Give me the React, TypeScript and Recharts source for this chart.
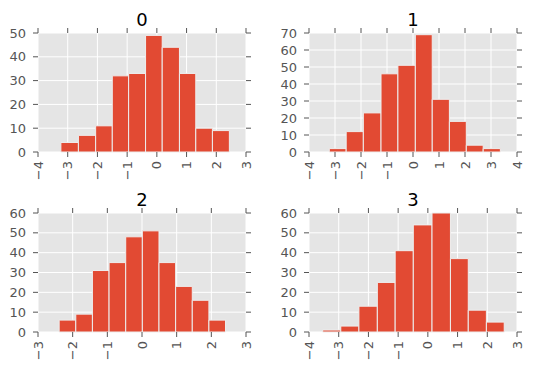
import React from 'react';
import { ComposedChart, XAxis, YAxis, CartesianGrid, ReferenceArea, Line } from 'recharts';

// ---- data ----
const titles = ['0', '1', '2', '3'];

const edges0 = [-3.23, -2.64, -2.06, -1.5, -0.95, -0.38, 0.18, 0.76, 1.31, 1.87, 2.44];
const counts0 = [4, 7, 11, 32, 33, 49, 44, 33, 10, 9];
const xTicks0 = [-4, -3, -2, -1, 0, 1, 2, 3];
const yTicks0 = [0, 10, 20, 30, 40, 50];

const edges1 = [-3.22, -2.57, -1.91, -1.23, -0.58, 0.09, 0.74, 1.4, 2.05, 2.7, 3.36];
const counts1 = [2, 12, 23, 46, 51, 69, 31, 18, 4, 2];
const xTicks1 = [-4, -3, -2, -1, 0, 1, 2, 3, 4];
const yTicks1 = [0, 10, 20, 30, 40, 50, 60, 70];

const edges2 = [-2.39, -1.91, -1.43, -0.95, -0.47, 0.01, 0.49, 0.97, 1.45, 1.93, 2.41];
const counts2 = [6, 9, 31, 35, 48, 51, 35, 23, 16, 6];
const xTicks2 = [-3, -2, -1, 0, 1, 2, 3];
const yTicks2 = [0, 10, 20, 30, 40, 50, 60];

const edges3 = [-3.54, -2.93, -2.32, -1.7, -1.1, -0.49, 0.14, 0.76, 1.36, 1.97, 2.57];
const counts3 = [1, 3, 13, 25, 41, 54, 60, 37, 11, 5];
const xTicks3 = [-4, -3, -2, -1, 0, 1, 2, 3];
const yTicks3 = [0, 10, 20, 30, 40, 50, 60];

// ---- style ----
const FONT = 'DejaVu Sans, sans-serif';
const TICK_COLOR = '#555555';
const BAR_COLOR = '#E24A33';
const BG = '#E5E5E5';
const TICK_FS = 13;
const TITLE_FS = 18;

const fmt = (v: number) => (v < 0 ? '\u2212' + Math.abs(v) : String(v));

const RotTick = (props: any) => {
  const { x, y, payload } = props;
  return (
    <text
      x={x}
      y={y}
      transform={`rotate(-90 ${x} ${y})`}
      textAnchor="end"
      dominantBaseline="central"
      fill={TICK_COLOR}
      fontSize={TICK_FS}
      fontFamily={FONT}
    >
      {fmt(payload.value)}
    </text>
  );
};

type PanelProps = {
  edges: number[];
  counts: number[];
  xTicks: number[];
  yTicks: number[];
  left: number;
  top: number;
  leftW: number;
  rightW: number;
};

const Panel = ({ edges, counts, xTicks, yTicks, left, top, leftW, rightW }: PanelProps) => {
  const data = counts.map((c, i) => ({ mid: (edges[i] + edges[i + 1]) / 2, count: c }));
  const xDomain = [xTicks[0], xTicks[xTicks.length - 1]];
  const yDomain = [yTicks[0], yTicks[yTicks.length - 1]];
  const tickLine = { stroke: TICK_COLOR, strokeWidth: 1 };
  return (
    <div style={{ position: 'absolute', left, top }}>
      <ComposedChart width={leftW + 208 + rightW} height={185} data={data} margin={{ top: 0, right: 0, bottom: 0, left: 0 }}>
        <CartesianGrid stroke="#FFFFFF" strokeWidth={1} fill={BG} fillOpacity={1} />
        <XAxis
          dataKey="mid"
          type="number"
          domain={xDomain}
          ticks={xTicks}
          allowDataOverflow
          interval={0}
          height={33}
          tickSize={5}
          tickMargin={4}
          axisLine={false}
          tickLine={tickLine}
          tick={<RotTick />}
        />
        <XAxis
          xAxisId="top"
          orientation="top"
          type="number"
          dataKey="mid"
          domain={xDomain}
          ticks={xTicks}
          allowDataOverflow
          interval={0}
          height={33}
          tickSize={5}
          axisLine={false}
          tickLine={tickLine}
          tickFormatter={() => ''}
        />
        <YAxis
          type="number"
          domain={yDomain}
          ticks={yTicks}
          allowDataOverflow
          interval={0}
          width={leftW}
          tickSize={5}
          tickMargin={7}
          axisLine={false}
          tickLine={tickLine}
          tick={{ fill: TICK_COLOR, fontSize: TICK_FS, fontFamily: FONT }}
        />
        <YAxis
          yAxisId="right"
          orientation="right"
          type="number"
          domain={yDomain}
          ticks={yTicks}
          allowDataOverflow
          interval={0}
          width={rightW}
          tickSize={5}
          axisLine={false}
          tickLine={tickLine}
          tickFormatter={() => ''}
        />
        {counts.map((c, i) => (
          <ReferenceArea
            key={i}
            x1={edges[i]}
            x2={edges[i + 1]}
            y1={0}
            y2={c}
            fill={BAR_COLOR}
            fillOpacity={1}
            stroke="#EEEEEE"
            strokeWidth={1}
            strokeOpacity={1}
            ifOverflow="visible"
          />
        ))}
        <Line dataKey="count" stroke="none" dot={false} activeDot={false} isAnimationActive={false} legendType="none" />
      </ComposedChart>
    </div>
  );
};

export default function App() {
  return (
    <div style={{ position: 'absolute', left: 0, top: 0, width: 534, height: 371, background: '#FFFFFF', overflow: 'hidden' }}>
      <Panel edges={edges0} counts={counts0} xTicks={xTicks0} yTicks={yTicks0} left={0} top={0} leftW={38} rightW={21} />
      <Panel edges={edges1} counts={counts1} xTicks={xTicks1} yTicks={yTicks1} left={267} top={0} leftW={42} rightW={17} />
      <Panel edges={edges2} counts={counts2} xTicks={xTicks2} yTicks={yTicks2} left={0} top={180} leftW={38} rightW={21} />
      <Panel edges={edges3} counts={counts3} xTicks={xTicks3} yTicks={yTicks3} left={267} top={180} leftW={42} rightW={17} />
      <svg width={534} height={371} style={{ position: 'absolute', left: 0, top: 0, pointerEvents: 'none' }}>
        <text x={142} y={19} textAnchor="middle" dominantBaseline="central" fontSize={TITLE_FS} fontFamily={FONT} fill="#000000">{titles[0]}</text>
        <text x={413} y={19} textAnchor="middle" dominantBaseline="central" fontSize={TITLE_FS} fontFamily={FONT} fill="#000000">{titles[1]}</text>
        <text x={142} y={199} textAnchor="middle" dominantBaseline="central" fontSize={TITLE_FS} fontFamily={FONT} fill="#000000">{titles[2]}</text>
        <text x={413} y={199} textAnchor="middle" dominantBaseline="central" fontSize={TITLE_FS} fontFamily={FONT} fill="#000000">{titles[3]}</text>
      </svg>
    </div>
  );
}
